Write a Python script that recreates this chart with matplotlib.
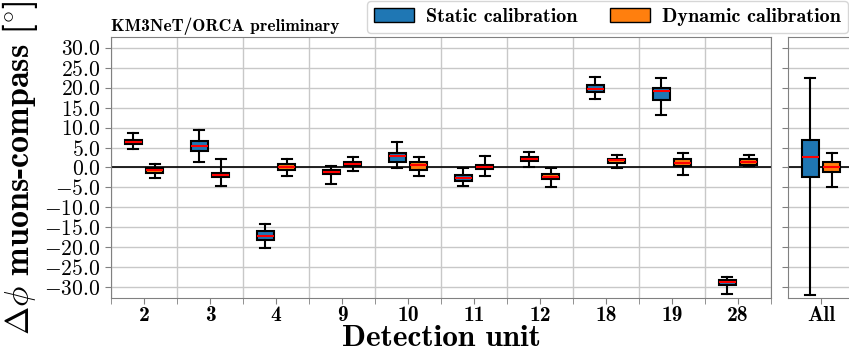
import matplotlib
matplotlib.use("Agg")
import matplotlib.pyplot as plt
import matplotlib.ticker as mticker
from matplotlib.patches import Patch
import numpy as np

units = ['2', '3', '4', '9', '10', '11', '12', '18', '19', '28']

static_whishi = [8.75, 9.3, -14.25, 0.5, 6.35, -0.15, 3.85, 22.7, 22.5, -27.4]
static_q3 = [6.9, 6.75, -15.9, -0.6, 3.6, -2.0, 2.75, 20.75, 20.0, -28.15]
static_med = [6.4, 5.3, -17.1, -1.15, 2.9, -2.6, 2.2, 19.75, 19.2, -28.65]
static_q1 = [5.9, 4.25, -18.1, -1.75, 1.4, -3.3, 1.6, 18.85, 16.9, -29.5]
static_whislo = [4.6, 1.5, -20.25, -4.25, -0.1, -4.65, 0.25, 17.25, 13.1, -31.75]

dynamic_whishi = [1.0, 2.25, 2.2, 2.75, 2.75, 3.0, -0.1, 3.2, 3.75, 3.25]
dynamic_q3 = [-0.1, -1.4, 1.0, 1.4, 1.5, 0.75, -1.6, 2.25, 2.1, 2.2]
dynamic_med = [-0.6, -2.0, 0.2, 0.9, 0.6, 0.2, -2.3, 1.85, 1.1, 1.5]
dynamic_q1 = [-1.5, -2.5, -0.6, 0.35, -0.6, -0.4, -2.9, 1.1, 0.35, 0.75]
dynamic_whislo = [-2.6, -4.6, -2.1, -0.8, -2.25, -2.15, -4.9, -0.25, -2.0, 0.35]

all_static = [22.5, 7.0, 2.6, -2.3, -31.9]     # whishi, q3, med, q1, whislo
all_dynamic = [3.6, 1.3, 0.2, -1.2, -4.9]

y_ticks = [-30, -25, -20, -15, -10, -5, 0, 5, 10, 15, 20, 25, 30]

plt.rcParams['font.family'] = ['cmb10', 'DejaVu Serif']
plt.rcParams['mathtext.fontset'] = 'cm'
plt.rcParams['axes.unicode_minus'] = False

C_STATIC = '#1f77b4'
C_DYN = '#ff7f0e'
SPINE = '#808080'
GRID = '#c8c8c8'

def stats(whishi, q3, med, q1, whislo):
    return [dict(whishi=a, q3=b, med=c, q1=d, whislo=e, fliers=[])
            for a, b, c, d, e in zip(whishi, q3, med, q1, whislo)]

def draw(ax, st, pos, color):
    ax.bxp(st, positions=pos, widths=0.26, capwidths=0.15, patch_artist=True,
           showfliers=False, manage_ticks=False,
           boxprops=dict(facecolor=color, edgecolor='black', linewidth=1.5),
           medianprops=dict(color='red', linewidth=1.5),
           whiskerprops=dict(color='black', linewidth=1.5),
           capprops=dict(color='black', linewidth=1.5), zorder=3)

fig = plt.figure(figsize=(8.49, 3.54), dpi=100)
W, H = 849, 354
ax = fig.add_axes([111 / W, 1 - 297.7 / H, 660 / W, (297.7 - 36.5) / H])
ax2 = fig.add_axes([788 / W, 1 - 297.7 / H, 66 / W, (297.7 - 36.5) / H])

x = np.arange(len(units))
off = 0.16
draw(ax, stats(static_whishi, static_q3, static_med, static_q1, static_whislo), x - off, C_STATIC)
draw(ax, stats(dynamic_whishi, dynamic_q3, dynamic_med, dynamic_q1, dynamic_whislo), x + off, C_DYN)
draw(ax2, stats(*[[v] for v in all_static]), [-off], C_STATIC)
draw(ax2, stats(*[[v] for v in all_dynamic]), [off], C_DYN)

ylim = (-32.6, 32.8)
fmt = mticker.FuncFormatter(lambda v, p: r'$\mathbf{%.1f}$' % v)
for a in (ax, ax2):
    a.set_ylim(*ylim)
    a.set_yticks(y_ticks)
    a.axhline(0, color='black', linewidth=1.2, zorder=2)
    a.grid(axis='y', which='major', color=GRID, linewidth=1.0, zorder=0)
    a.set_axisbelow(True)
    for s in a.spines.values():
        s.set_color(SPINE)
    a.tick_params(axis='both', which='both', colors=SPINE, labelcolor='black',
                  length=4, labelsize=15.5)
    a.tick_params(axis='x', pad=2)

ax.set_xlim(-0.5, len(units) - 0.5)
ax.set_xticks(x)
ax.set_xticklabels(units)
ax.set_xticks(np.arange(len(units) + 1) - 0.5, minor=True)
ax.grid(axis='x', which='minor', color=GRID, linewidth=1.0, zorder=0)
ax.yaxis.set_major_formatter(fmt)

ax2.set_xlim(-0.5, 0.5)
ax2.set_xticks([0])
ax2.set_xticklabels(['All'])
ax2.set_yticklabels([])

ax.set_xlabel('Detection unit', fontsize=22.5, labelpad=0)
ax.set_ylabel(r'$\Delta\phi$ muons-compass [$^{\circ}$]', fontsize=24.5, labelpad=3)
ax.set_title('KM3NeT/ORCA preliminary', loc='left', fontsize=12.5, pad=4)

handles = [Patch(facecolor=C_STATIC, edgecolor='black', label='Static calibration'),
           Patch(facecolor=C_DYN, edgecolor='black', label='Dynamic calibration')]
fig.legend(handles=handles, ncol=2, loc='lower left',
           bbox_to_anchor=(367 / W, 1 - 33 / H), fontsize=14.5,
           frameon=True, borderaxespad=0, handletextpad=0.6,
           columnspacing=1.6, handleheight=0.65, borderpad=0.35)

fig.savefig('out.png', dpi=100)
